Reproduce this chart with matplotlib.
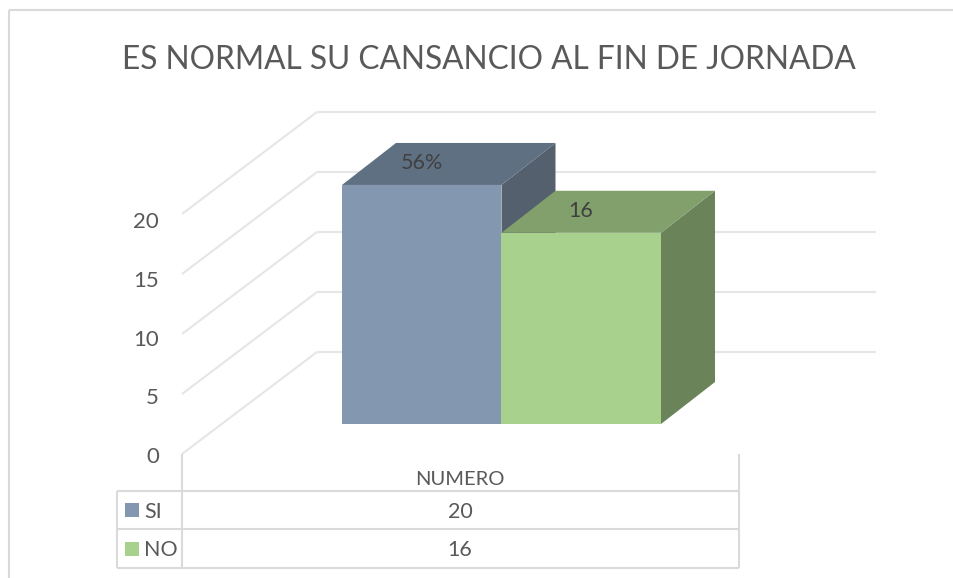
import matplotlib.pyplot as plt
from matplotlib.patches import Polygon, Rectangle

titulo = 'ES NORMAL SU CANSANCIO AL FIN DE JORNADA'
categorias = ['SI', 'NO']
valores = [20, 16]
etiquetas = ['56%', '16']
serie = 'NUMERO'
ticks = [0, 5, 10, 15, 20]

colores = ['#8497B0', '#A9D18E']
colores_top = ['#5F7083', '#81A06C']
colores_lado = ['#55606F', '#6B8359']
GRIS = '#E6E6E6'
TEXTO = '#595959'

W, H = 954, 578
PX = 12.0  # pixeles por unidad en y
Y0 = 454  # pixel del cero en el plano frontal
BASE = 424  # pixel de la base de las barras
ESC = 0.996  # las barras quedan un poco mas bajas que la rejilla


def py(p):
    return (Y0 - p) / PX


plt.rcParams['font.family'] = ['Lato', 'DejaVu Sans']
fig = plt.figure(figsize=(W / 100, H / 100), dpi=100)
ax = fig.add_axes([0, 0, 1, 1])
ax.set_xlim(0, W)
ax.set_ylim(py(H), py(0))
ax.axis('off')


def linea(x, y, color=GRIS, lw=1.5):
    ax.plot(x, y, color=color, lw=lw, solid_capstyle='butt', zorder=1)


def texto(x, p, s, size=16, color=TEXTO, ha='center'):
    ax.text(x, py(p), s, fontsize=size, color=color, ha=ha, va='center_baseline', zorder=5)


# marco
linea([9, 9], [py(10), py(H)], '#D9D9D9')
linea([9, W], [py(10), py(10)], '#D9D9D9')

texto(489, 57, titulo, size=22.8)

# paredes
DX, DY = 135, 102 / PX
for t in ticks:
    linea([182, 182 + DX], [t, t + DY])
    linea([182 + DX, 876], [t + DY, t + DY])
    texto(159, 455 - t * 11.75, str(t), ha='right')

# barras
ANCHO = 159.5
FX, FY = 54, 42 / PX
x0 = 342
b = py(BASE)
for i, v in enumerate(valores):
    x1 = x0 + ANCHO
    top = b + v * ESC
    ax.add_patch(Polygon([(x1, b), (x1 + FX, b + FY), (x1 + FX, top + FY), (x1, top)],
                         fc=colores_lado[i], ec='none', zorder=3))
    ax.add_patch(Polygon([(x0, top), (x0 + FX, top + FY), (x1 + FX, top + FY), (x1, top)],
                         fc=colores_top[i], ec='none', zorder=3))
    ax.add_patch(Rectangle((x0, b), ANCHO, v * ESC, fc=colores[i], ec='none', zorder=4))
    texto(x0 + 79.5, Y0 - (top + 2.0) * PX, etiquetas[i], color='#404040', size=15.5)
    x0 = x1

# tabla
for p in [491, 529, 567.5]:
    linea([117, 739], [py(p), py(p)], '#DADADA')
linea([117, 117], [py(491), py(567.5)], '#DADADA')
for x in [182, 739]:
    linea([x, x], [py(454), py(567.5)], '#DADADA')

texto(460, 478, serie, size=14.5)
for i, c in enumerate(categorias):
    p = 510 + 38.5 * i
    ax.add_patch(Rectangle((125, py(p + 7)), 14, 14 / PX, fc=colores[i], ec='none', zorder=4))
    texto(144, p, c, ha='left', size=15.5)
    texto(460, p, str(valores[i]), size=15.5)

fig.savefig('out.png', dpi=100)
